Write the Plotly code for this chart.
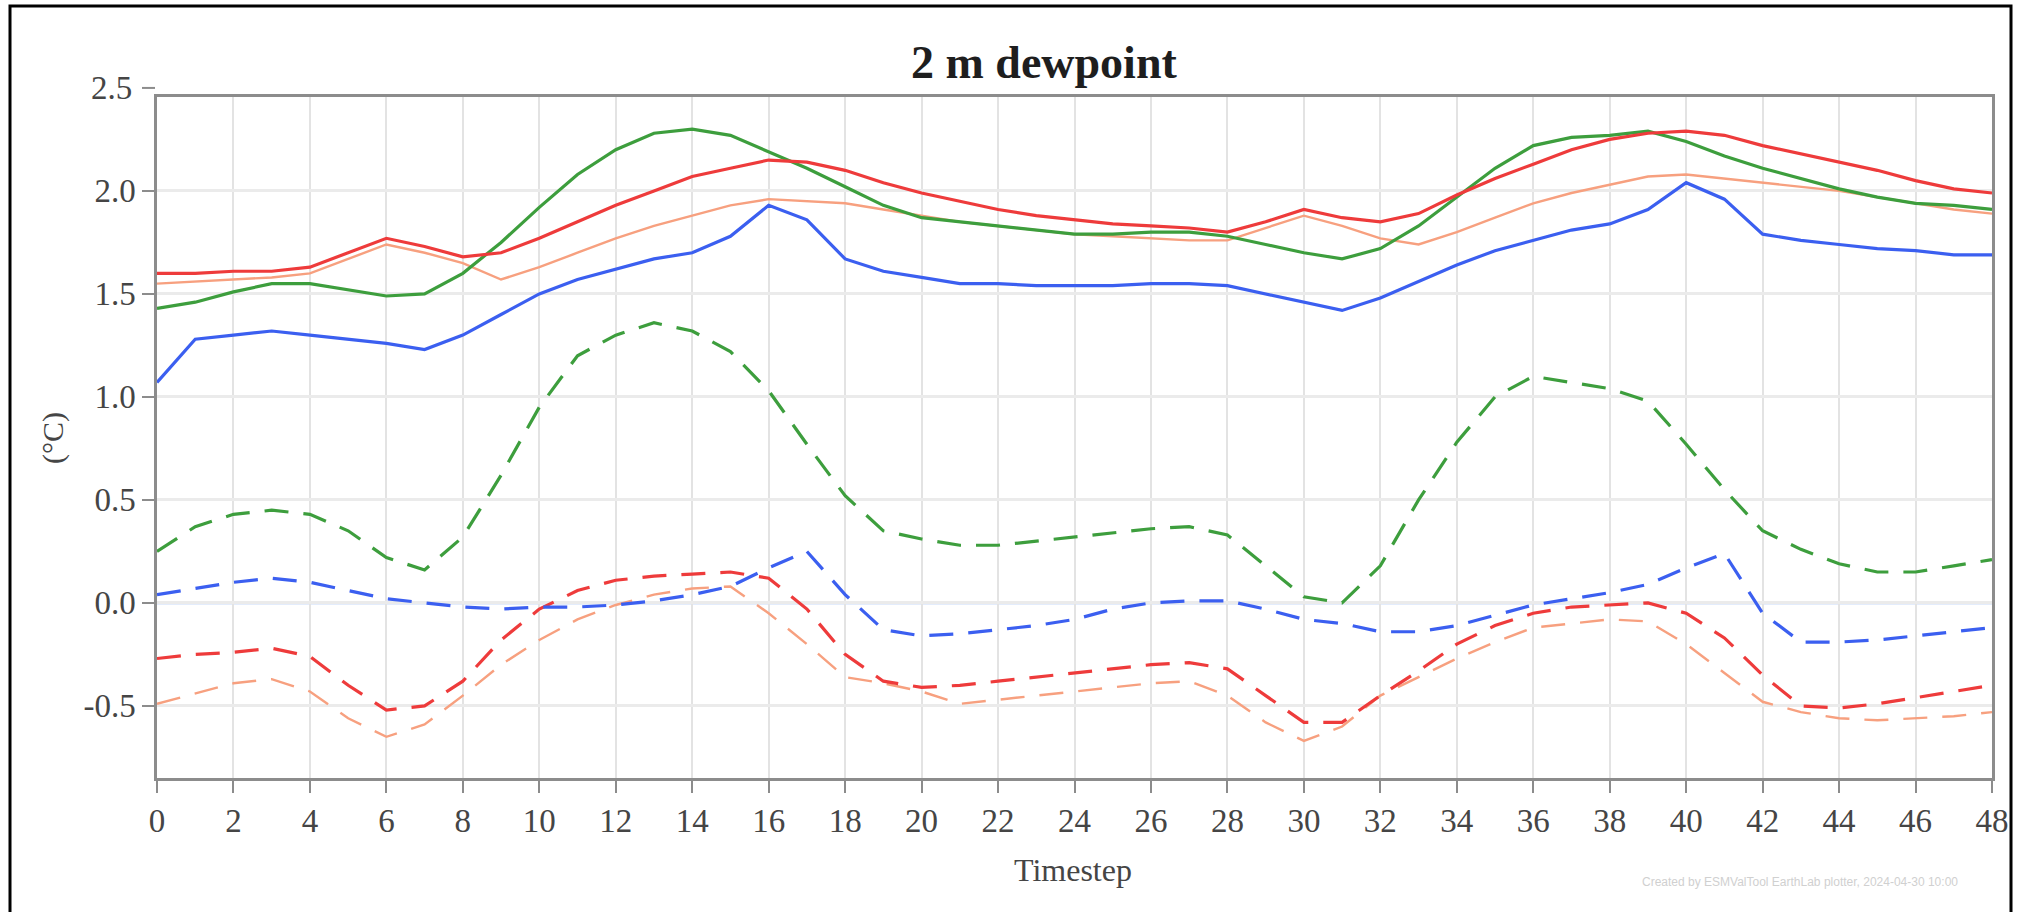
import plotly.graph_objects as go

timesteps = list(range(49))

red_solid = [1.60, 1.60, 1.61, 1.61, 1.63, 1.70, 1.77, 1.73, 1.68, 1.70, 1.77, 1.85, 1.93, 2.00, 2.07, 2.11, 2.15, 2.14, 2.10, 2.04,
             1.99, 1.95, 1.91, 1.88, 1.86, 1.84, 1.83, 1.82, 1.80, 1.85, 1.91, 1.87, 1.85, 1.89, 1.98, 2.06, 2.13, 2.20, 2.25, 2.28,
             2.29, 2.27, 2.22, 2.18, 2.14, 2.10, 2.05, 2.01, 1.99]
salmon_solid = [1.55, 1.56, 1.57, 1.58, 1.60, 1.67, 1.74, 1.70, 1.65, 1.57, 1.63, 1.70, 1.77, 1.83, 1.88, 1.93, 1.96, 1.95, 1.94, 1.91,
                1.88, 1.85, 1.83, 1.81, 1.79, 1.78, 1.77, 1.76, 1.76, 1.82, 1.88, 1.83, 1.77, 1.74, 1.80, 1.87, 1.94, 1.99, 2.03, 2.07,
                2.08, 2.06, 2.04, 2.02, 2.00, 1.97, 1.94, 1.91, 1.89]
green_solid = [1.43, 1.46, 1.51, 1.55, 1.55, 1.52, 1.49, 1.50, 1.60, 1.75, 1.92, 2.08, 2.20, 2.28, 2.30, 2.27, 2.19, 2.11, 2.02, 1.93,
               1.87, 1.85, 1.83, 1.81, 1.79, 1.79, 1.80, 1.80, 1.78, 1.74, 1.70, 1.67, 1.72, 1.83, 1.97, 2.11, 2.22, 2.26, 2.27, 2.29,
               2.24, 2.17, 2.11, 2.06, 2.01, 1.97, 1.94, 1.93, 1.91]
blue_solid = [1.07, 1.28, 1.30, 1.32, 1.30, 1.28, 1.26, 1.23, 1.30, 1.40, 1.50, 1.57, 1.62, 1.67, 1.70, 1.78, 1.93, 1.86, 1.67, 1.61,
              1.58, 1.55, 1.55, 1.54, 1.54, 1.54, 1.55, 1.55, 1.54, 1.50, 1.46, 1.42, 1.48, 1.56, 1.64, 1.71, 1.76, 1.81, 1.84, 1.91,
              2.04, 1.96, 1.79, 1.76, 1.74, 1.72, 1.71, 1.69, 1.69]
green_dash = [0.25, 0.37, 0.43, 0.45, 0.43, 0.35, 0.22, 0.16, 0.32, 0.62, 0.95, 1.20, 1.30, 1.36, 1.32, 1.22, 1.03, 0.77, 0.52, 0.35,
              0.31, 0.28, 0.28, 0.30, 0.32, 0.34, 0.36, 0.37, 0.33, 0.18, 0.03, 0.00, 0.18, 0.50, 0.78, 1.00, 1.10, 1.07, 1.04, 0.98,
              0.77, 0.55, 0.35, 0.26, 0.19, 0.15, 0.15, 0.18, 0.21]
blue_dash = [0.04, 0.07, 0.10, 0.12, 0.10, 0.06, 0.02, 0.00, -0.02, -0.03, -0.02, -0.02, -0.01, 0.01, 0.04, 0.08, 0.17, 0.25, 0.04, -0.13,
             -0.16, -0.15, -0.13, -0.11, -0.08, -0.03, 0.00, 0.01, 0.01, -0.03, -0.08, -0.10, -0.14, -0.14, -0.11, -0.06, -0.01, 0.02, 0.05, 0.09,
             0.17, 0.24, -0.05, -0.19, -0.19, -0.18, -0.16, -0.14, -0.12]
red_dash = [-0.27, -0.25, -0.24, -0.22, -0.26, -0.40, -0.52, -0.50, -0.38, -0.18, -0.03, 0.06, 0.11, 0.13, 0.14, 0.15, 0.12, -0.03, -0.25, -0.38,
            -0.41, -0.40, -0.38, -0.36, -0.34, -0.32, -0.30, -0.29, -0.32, -0.45, -0.58, -0.58, -0.45, -0.33, -0.20, -0.11, -0.05, -0.02, -0.01, 0.00,
            -0.05, -0.17, -0.35, -0.50, -0.51, -0.49, -0.46, -0.43, -0.40]
salmon_dash = [-0.49, -0.44, -0.39, -0.37, -0.43, -0.56, -0.65, -0.59, -0.45, -0.30, -0.18, -0.08, -0.01, 0.04, 0.07, 0.08, -0.05, -0.20, -0.36, -0.39,
               -0.43, -0.49, -0.47, -0.45, -0.43, -0.41, -0.39, -0.38, -0.45, -0.58, -0.67, -0.60, -0.45, -0.36, -0.27, -0.19, -0.12, -0.10, -0.08, -0.09,
               -0.20, -0.34, -0.48, -0.53, -0.56, -0.57, -0.56, -0.55, -0.53]

x_ticks = list(range(0, 49, 2))
y_ticks = [-0.5, 0.0, 0.5, 1.0, 1.5, 2.0]
y_extra_tick = 2.5
y_range = [-0.85, 2.456]

RED = "#ee3b3b"
SALMON = "#f7a07f"
GREEN = "#3d9e3d"
BLUE = "#3b5ff0"

W, H = 2020, 912
L, R, T, B = 157, 28, 97, 134
PW, PH = W - L - R, H - T - B


def px_x(p):
    return (p - L) / PW


def px_y(p):
    return (H - B - p) / PH


fig = go.Figure()

series = [
    (salmon_dash, SALMON, "dash", 2.4),
    (red_dash, RED, "dash", 3.2),
    (blue_dash, BLUE, "dash", 3.2),
    (green_dash, GREEN, "dash", 3.2),
    (salmon_solid, SALMON, "solid", 2.4),
    (blue_solid, BLUE, "solid", 3.2),
    (green_solid, GREEN, "solid", 3.2),
    (red_solid, RED, "solid", 3.2),
]
for vals, col, dash, w in series:
    fig.add_trace(go.Scatter(
        x=timesteps, y=vals, mode="lines",
        line=dict(color=col, width=w, dash=("24px,15px" if dash == "dash" else "solid")),
        showlegend=False, hoverinfo="skip",
    ))

# zero reference line
fig.add_hline(y=0, line=dict(color="#8fb4f2", width=2.5), layer="below")

tick_font = dict(family="Liberation Serif, Times New Roman, serif", size=33, color="#454545")

fig.update_layout(
    width=W, height=H,
    margin=dict(l=L, r=R, t=T, b=B),
    paper_bgcolor="white", plot_bgcolor="white",
    xaxis=dict(
        range=[0, 48], tickvals=x_ticks, ticktext=[str(v) for v in x_ticks],
        showgrid=True, gridcolor="#e3e3e3", gridwidth=2,
        showline=True, linecolor="#8c8c8c", linewidth=2.5, mirror=True,
        ticks="outside", ticklen=12, tickwidth=2, tickcolor="#8c8c8c",
        tickfont=tick_font, zeroline=False,
    ),
    yaxis=dict(
        range=y_range, tickvals=y_ticks, ticktext=[f"{v:.1f}" for v in y_ticks],
        showgrid=True, gridcolor="#ebebeb", gridwidth=3,
        showline=True, linecolor="#8c8c8c", linewidth=2.5, mirror=True,
        ticks="outside", ticklen=12, tickwidth=2, tickcolor="#8c8c8c",
        tickfont=tick_font, zeroline=False,
    ),
)

# extra tick "2.5" above plot top
y25 = (y_extra_tick - y_range[0]) / (y_range[1] - y_range[0])
fig.add_shape(type="line", xref="paper", yref="paper",
              x0=px_x(142), x1=px_x(155), y0=y25, y1=y25,
              line=dict(color="#8c8c8c", width=2))
fig.add_annotation(text=f"{y_extra_tick:.1f}", xref="paper", yref="paper",
                   x=px_x(134), y=y25, xanchor="right", yanchor="middle",
                   showarrow=False, font=tick_font)

# title
fig.add_annotation(text="<b>2 m dewpoint</b>", xref="paper", yref="paper",
                   x=px_x(1044), y=px_y(62), xanchor="center", yanchor="middle",
                   showarrow=False,
                   font=dict(family="Liberation Serif, Times New Roman, serif", size=46, color="#1e1e1e"))

# axis titles
fig.add_annotation(text="Timestep", xref="paper", yref="paper",
                   x=px_x(1073), y=px_y(870), xanchor="center", yanchor="middle",
                   showarrow=False,
                   font=dict(family="Liberation Serif, Times New Roman, serif", size=32, color="#454545"))
fig.add_annotation(text="(°C)", xref="paper", yref="paper", textangle=-90,
                   x=px_x(53), y=px_y(438), xanchor="center", yanchor="middle",
                   showarrow=False,
                   font=dict(family="Liberation Serif, Times New Roman, serif", size=30, color="#454545"))

# footnote
fig.add_annotation(text="Created by ESMValTool EarthLab plotter, 2024-04-30 10:00", xref="paper", yref="paper",
                   x=px_x(1640), y=px_y(882), xanchor="left", yanchor="middle",
                   showarrow=False,
                   font=dict(family="Liberation Sans, Arial, sans-serif", size=12, color="#d0d0d0"))

# outer black frame
fig.add_shape(type="rect", xref="paper", yref="paper",
              x0=px_x(10), x1=px_x(2011), y0=px_y(915), y1=px_y(6),
              line=dict(color="black", width=3), fillcolor="rgba(0,0,0,0)")

fig.write_html("out.html")
